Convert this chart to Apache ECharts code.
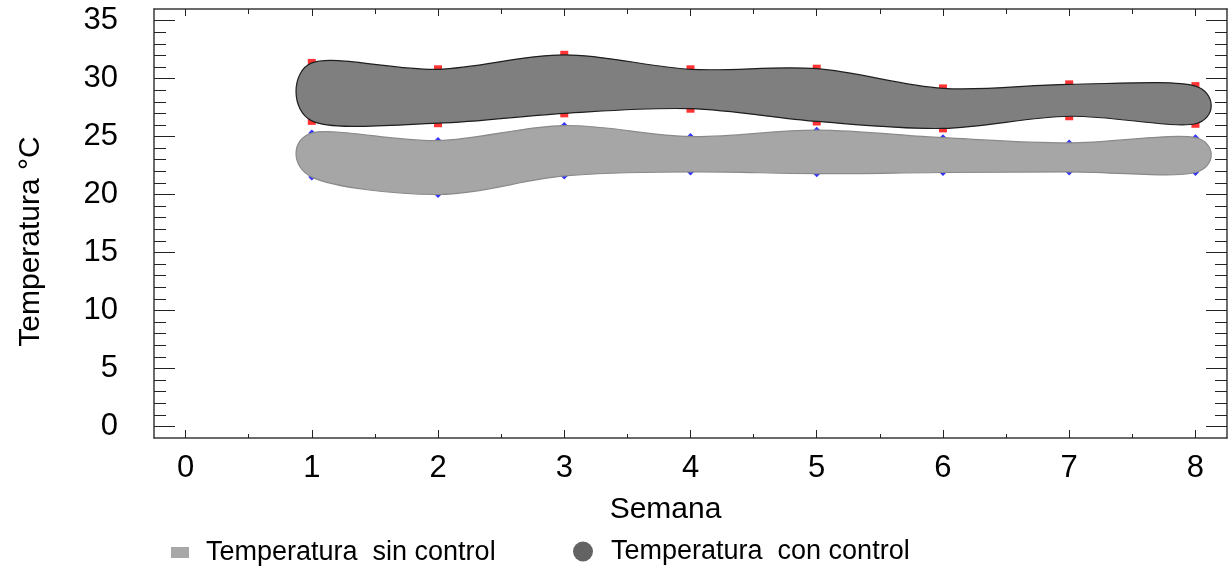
<!DOCTYPE html>
<html><head><meta charset="utf-8">
<script src="https://cdn.jsdelivr.net/npm/echarts@6/dist/echarts.min.js"></script>
<style>html,body{margin:0;padding:0;background:#fff}#c{width:1228px;height:569px}</style>
</head><body><div id="c"></div>
<script>
// ---- data ----
const weeks = [1, 2, 3, 4, 5, 6, 7, 8];
const conMax = [31.35, 30.8, 32.05, 30.8, 30.85, 29.15, 29.5, 29.35];
const conMin = [26.35, 26.15, 27.0, 27.4, 26.3, 25.7, 26.75, 26.1];
const sinMax = [25.3, 24.65, 25.95, 25.0, 25.55, 24.9, 24.45, 24.9];
const sinMin = [21.5, 20.0, 21.6, 21.95, 21.8, 21.9, 21.95, 21.9];
const xMajorTicks = [0, 1, 2, 3, 4, 5, 6, 7, 8];
const xMinorTicks = [0.5, 1.5, 2.5, 3.5, 4.5, 5.5, 6.5, 7.5];
const yMajorTicks = [0, 5, 10, 15, 20, 25, 30, 35];
const yMinorTicks = [1, 2, 3, 4, 6, 7, 8, 9, 11, 12, 13, 14, 16, 17, 18, 19, 21, 22, 23, 24, 26, 27, 28, 29, 31, 32, 33, 34];
const nameSin = 'Temperatura  sin control';
const nameCon = 'Temperatura  con control';

const FONT = "'Liberation Sans', Arial, sans-serif";

function closedSpline(pts) {
  const n = pts.length;
  let d = 'M' + pts[0][0] + ',' + pts[0][1];
  for (let i = 0; i < n; i++) {
    const p0 = pts[(i - 1 + n) % n], p1 = pts[i], p2 = pts[(i + 1) % n], p3 = pts[(i + 2) % n];
    const c1x = p1[0] + (p2[0] - p0[0]) / 6, c1y = p1[1] + (p2[1] - p0[1]) / 6;
    const c2x = p2[0] - (p3[0] - p1[0]) / 6, c2y = p2[1] - (p3[1] - p1[1]) / 6;
    d += ' C' + c1x + ',' + c1y + ' ' + c2x + ',' + c2y + ' ' + p2[0] + ',' + p2[1];
  }
  return d + ' Z';
}

function blobRenderer(maxArr, minArr, fill, stroke) {
  return function (params, api) {
    if (params.dataIndex !== 0) return null;
    const top = weeks.map((w, i) => api.coord([w, maxArr[i]]));
    const bot = weeks.map((w, i) => api.coord([w, minArr[i]])).reverse();
    return {
      type: 'path',
      shape: { pathData: closedSpline(top.concat(bot)) },
      style: { fill: fill, stroke: stroke, lineWidth: 1.2 }
    };
  };
}

function xAx(position, ticks, len, withLabels, showLine) {
  return {
    type: 'value', min: -0.25, max: 8.25, position: position,
    axisLine: { show: showLine, onZero: false, lineStyle: { color: '#3a3a3a', width: 1.5 } },
    axisTick: { show: true, inside: true, length: len, customValues: ticks, lineStyle: { color: '#222', width: 1 } },
    axisLabel: { show: withLabels, customValues: ticks, fontSize: 31, color: '#000', margin: 15, fontFamily: FONT },
    splitLine: { show: false }
  };
}
function yAx(position, ticks, len, withLabels, showLine) {
  return {
    type: 'value', min: -1, max: 36, position: position,
    axisLine: { show: showLine, onZero: false, lineStyle: { color: '#3a3a3a', width: 1.5 } },
    axisTick: { show: true, inside: true, length: len, customValues: ticks, lineStyle: { color: '#222', width: 1 } },
    axisLabel: { show: withLabels, customValues: ticks, fontSize: 31, color: '#000', margin: 36, fontFamily: FONT },
    splitLine: { show: false }
  };
}

const xMain = xAx('bottom', xMajorTicks, 8, true, true);
xMain.name = 'Semana';
xMain.nameLocation = 'middle';
xMain.nameGap = 57;
xMain.nameTextStyle = { fontSize: 30, color: '#000', fontFamily: FONT, padding: [0, 50, 0, 0] };

const yMain = yAx('left', yMajorTicks, 21, true, true);
yMain.name = 'Temperatura °C';
yMain.nameLocation = 'middle';
yMain.nameGap = 108;
yMain.nameTextStyle = { fontSize: 30, color: '#000', fontFamily: FONT, padding: [0, 36, 0, 0] };

const chart = echarts.init(document.getElementById('c'), null, { renderer: 'canvas' });
chart.setOption({
  animation: false,
  backgroundColor: '#fff',
  grid: { left: 154, top: 9, width: 1073, height: 429, containLabel: false },
  xAxis: [
    xMain,
    xAx('bottom', xMinorTicks, 4, false, false),
    xAx('top', xMajorTicks, 7, false, true),
    xAx('top', xMinorTicks, 5, false, false)
  ],
  yAxis: [
    yMain,
    yAx('left', yMinorTicks, 12, false, false),
    yAx('right', yMajorTicks, 21, false, true),
    yAx('right', yMinorTicks, 12, false, false)
  ],
  legend: [
    {
      left: 171, top: 539, padding: 0, orient: 'horizontal', selectedMode: false,
      itemWidth: 18, itemHeight: 11, icon: 'rect',
      textStyle: { fontSize: 27, color: '#000', fontFamily: FONT, padding: [0, 0, 0, 12] },
      data: [{ name: nameSin, itemStyle: { color: '#a8a8a8' } }]
    },
    {
      left: 573, top: 538, padding: 0, orient: 'horizontal', selectedMode: false,
      itemWidth: 20, itemHeight: 20, icon: 'circle',
      textStyle: { fontSize: 27, color: '#000', fontFamily: FONT, padding: [0, 0, 0, 13] },
      data: [{ name: nameCon, itemStyle: { color: '#636363' } }]
    }
  ],
  series: [
    { type: 'scatter', name: 'conMaxPts', silent: true, z: 2, symbol: 'rect', symbolSize: 8,
      itemStyle: { color: '#ff0000' }, data: weeks.map((w, i) => [w, conMax[i]]) },
    { type: 'scatter', name: 'conMinPts', silent: true, z: 2, symbol: 'rect', symbolSize: 8,
      itemStyle: { color: '#ff0000' }, data: weeks.map((w, i) => [w, conMin[i]]) },
    { type: 'scatter', name: 'sinMaxPts', silent: true, z: 2, symbol: 'diamond', symbolSize: 7,
      itemStyle: { color: '#0000ff' }, data: weeks.map((w, i) => [w, sinMax[i]]) },
    { type: 'scatter', name: 'sinMinPts', silent: true, z: 2, symbol: 'diamond', symbolSize: 7,
      itemStyle: { color: '#0000ff' }, data: weeks.map((w, i) => [w, sinMin[i]]) },
    { type: 'custom', name: nameSin, z: 3, silent: true,
      itemStyle: { color: '#a6a6a6' },
      encode: { x: 0, y: [1, 2] },
      data: weeks.map((w, i) => [w, sinMax[i], sinMin[i]]),
      renderItem: blobRenderer(sinMax, sinMin, '#a6a6a6', '#8a8a8a') },
    { type: 'custom', name: nameCon, z: 3, silent: true,
      itemStyle: { color: '#7f7f7f' },
      encode: { x: 0, y: [1, 2] },
      data: weeks.map((w, i) => [w, conMax[i], conMin[i]]),
      renderItem: blobRenderer(conMax, conMin, '#7f7f7f', '#1e1e1e') }
  ]
});
</script></body></html>
